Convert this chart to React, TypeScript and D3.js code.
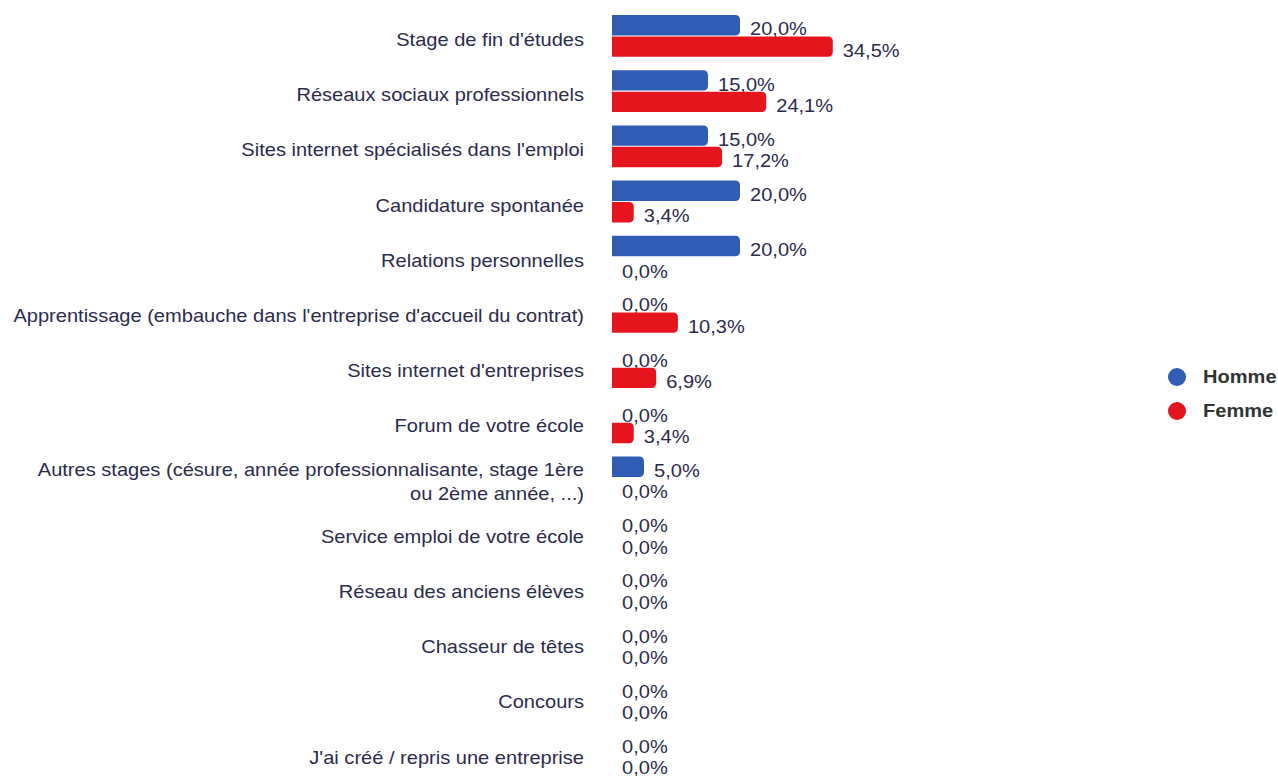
import React from "react";
import * as d3 from "d3";

const categories: string[][] = [
  ["Stage de fin d'études"],
  ["Réseaux sociaux professionnels"],
  ["Sites internet spécialisés dans l'emploi"],
  ["Candidature spontanée"],
  ["Relations personnelles"],
  ["Apprentissage (embauche dans l'entreprise d'accueil du contrat)"],
  ["Sites internet d'entreprises"],
  ["Forum de votre école"],
  ["Autres stages (césure, année professionnalisante, stage 1ère", "ou 2ème année, ...)"],
  ["Service emploi de votre école"],
  ["Réseau des anciens élèves"],
  ["Chasseur de têtes"],
  ["Concours"],
  ["J'ai créé / repris une entreprise"],
];
const homme: number[] = [20.0, 15.0, 15.0, 20.0, 20.0, 0, 0, 0, 5.0, 0, 0, 0, 0, 0];
const femme: number[] = [34.5, 24.1, 17.2, 3.4, 0, 10.3, 6.9, 3.4, 0, 0, 0, 0, 0, 0];
const seriesNames = ["Homme", "Femme"];
const colors = ["#2f5db3", "#e5141d"];

const W = 1278;
const H = 776;
const X0 = 612;
const FONT = "'Liberation Sans', Arial, Helvetica, sans-serif";
const TEXT = "#2b2b4c";
const SX = 1.115;

const fmt = (v: number) => v.toFixed(1).replace(".", ",") + "%";

function barPath(x: number, y: number, w: number, h: number, r: number) {
  if (w <= 0) return "";
  const rr = Math.min(r, w, h / 2);
  return `M${x},${y}H${x + w - rr}Q${x + w},${y} ${x + w},${y + rr}V${y + h - rr}Q${x + w},${y + h} ${x + w - rr},${y + h}H${x}Z`;
}

export default function App() {
  const ids = categories.map((_, i) => String(i));
  const step = 55.2;
  const y = d3
    .scaleBand<string>()
    .domain(ids)
    .range([15 - step * 0.121, 15 - step * 0.121 + step * 14])
    .paddingInner(0.242)
    .paddingOuter(0.121);
  const inner = d3
    .scaleBand<string>()
    .domain(seriesNames)
    .range([0, y.bandwidth()])
    .paddingInner(0.05);
  const x = d3.scaleLinear().domain([0, 100]).range([X0, X0 + 640]);
  const data = [homme, femme];

  return (
    <svg
      width={W}
      height={H}
      style={{ position: "absolute", left: 0, top: 0, background: "#fff" }}
      fontFamily={FONT}
    >
      <rect width={W} height={H} fill="#fff" />
      {categories.map((lines, i) => {
        const by = y(String(i))!;
        const cy = by + y.bandwidth() / 2 + 4;
        return (
          <g key={i}>
            {lines.map((ln, j) => (
              <text
                key={j}
                transform={`translate(584,${cy + (j - (lines.length - 1) / 2) * 24}) scale(${SX},1)`}
                textAnchor="end"
                dominantBaseline="central"
                fontSize={18}
                fill={TEXT}
              >
                {ln}
              </text>
            ))}
            {seriesNames.map((s, k) => {
              const v = data[k][i];
              const yy = by + inner(s)!;
              const h = inner.bandwidth();
              const w = x(v) - x(0);
              return (
                <g key={s}>
                  <path d={barPath(x(0), yy, w, h, 5)} fill={colors[k]} />
                  <text
                    transform={`translate(${x(v) + 10},${yy + h / 2 + 4}) scale(${SX},1)`}
                    dominantBaseline="central"
                    fontSize={18}
                    fill={TEXT}
                  >
                    {fmt(v)}
                  </text>
                </g>
              );
            })}
          </g>
        );
      })}
      {seriesNames.map((s, k) => (
        <g key={s} transform={`translate(1177,${377 + k * 34})`}>
          <circle r={9} fill={colors[k]} />
          <text
            transform={`translate(26,0) scale(${SX},1)`}
            dominantBaseline="central"
            fontSize={18}
            fontWeight="bold"
            fill="#333"
          >
            {s}
          </text>
        </g>
      ))}
    </svg>
  );
}
